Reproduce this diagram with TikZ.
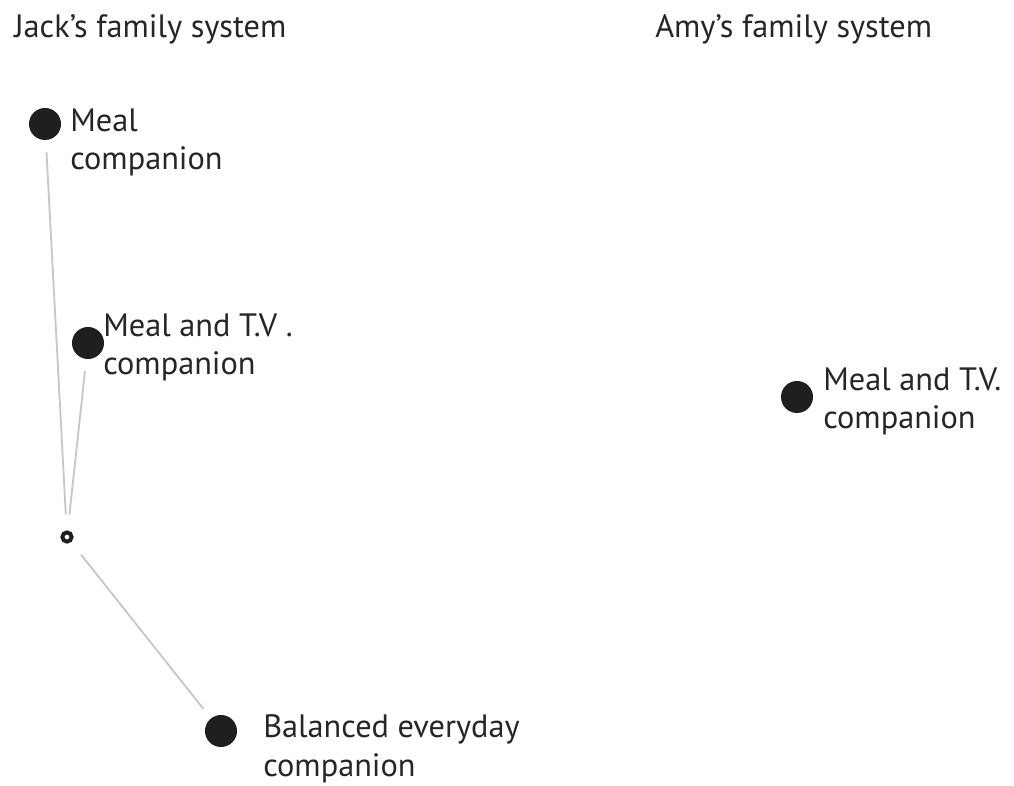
\documentclass[tikz,border=0pt]{standalone}
\usepackage{fontspec}
\setmainfont{PT Sans}
\usepackage{tikz}

\begin{document}
\begin{tikzpicture}[x=0.025cm, y=-0.025cm,
        dot/.style={circle, inner sep=0pt, minimum size=0.8cm, fill=black!88},
        hubring/.style={circle, inner sep=0pt, minimum size=0.23cm, draw=black!88, line width=2.8pt},
        lbl/.style={anchor=base west, inner sep=0pt, align=left, text=black!85,
            font=\fontsize{23}{27.5}\selectfont},
        link/.style={draw=black!22, line width=1.3pt, shorten <=0.4cm, shorten >=0.3cm}]
        \useasboundingbox (0,0) rectangle (1014,786);

        \node[lbl] (jack) at (14,38) {Jack’s family system};
        \node[lbl] (amy) at (655,38) {Amy’s family system};

        \node[dot] (meal) at (45,124) {};
        \node[dot] (mealtv) at (88,343) {};
        \node[hubring] (hub) at (67,537) {};
        \node[dot] (balanced) at (221,731) {};
        \node[dot] (amymeal) at (797,397) {};

        % second line baseline, the node's base anchor
        \node[lbl] (l-meal) at (70,170) {Meal\\companion};
        \node[lbl] (l-mealtv) at (103,375) {Meal and T.V .\\companion};
        \node[lbl] (l-balanced) at (263,776) {Balanced everyday\\companion};
        \node[lbl] (l-amymeal) at (823,429) {Meal and T.V.\\companion};

        \draw[link] (hub) -- (meal);
        \draw[link] (hub) -- (mealtv);
        \draw[link] (hub) -- (balanced);
    \end{tikzpicture}
\end{document}
